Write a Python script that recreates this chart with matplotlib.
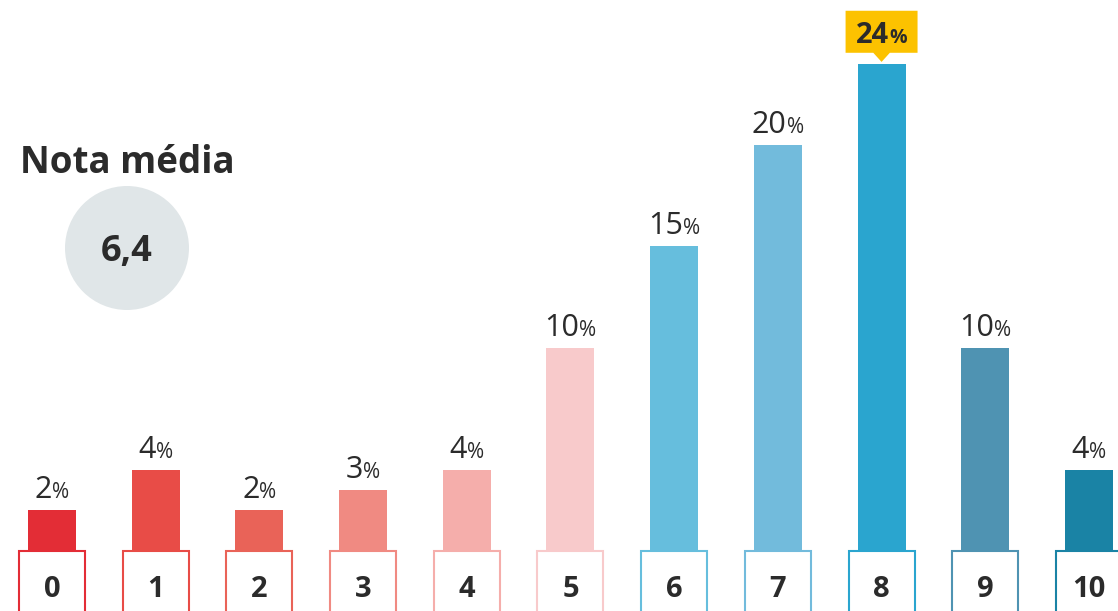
import matplotlib
matplotlib.use("Agg")
import matplotlib.pyplot as plt
from matplotlib.patches import Rectangle, Ellipse, Polygon

plt.rcParams['font.family'] = ['Open Sans', 'DejaVu Sans']

notas = [0, 1, 2, 3, 4, 5, 6, 7, 8, 9, 10]
pct = [2, 4, 2, 3, 4, 10, 15, 20, 24, 10, 4]
cores = ['#e32d36', '#e84c47', '#e96358', '#f08a82', '#f5aeab', '#f8cacb',
         '#66bedd', '#72bbdc', '#2aa5cf', '#4f93b2', '#1a83a5']
media = '6,4'
destaque = 8

W, H = 1118, 611
fig = plt.figure(figsize=(W / 100, H / 100), dpi=100)
ax = fig.add_axes([0, 0, 1, 1])
ax.set_xlim(-0.501, 10.28)
ax.set_ylim(-2.956, 27.14)
ax.axis('off')

txt = '#2b2b2b'
ax.bar(notas, pct, width=0.463, color=cores, zorder=2)

# caixinhas com a nota embaixo de cada barra
for n, c in zip(notas, cores):
    ax.add_patch(Rectangle((n - 0.318, -4), 0.636, 4, facecolor='white',
                           edgecolor=c, linewidth=1.5, zorder=3))
    ax.text(n, -2.27, str(n), ha='center', va='baseline', fontsize=21,
            fontweight='bold', color=txt, zorder=4)

renderer = fig.canvas.get_renderer()
inv = ax.transData.inverted()


def rotulo(x, y, num, big, small, weight):
    a = ax.text(x, y, num, ha='left', va='baseline', fontsize=big,
                fontweight=weight, color=txt, zorder=5)
    b = ax.text(x, y, '%', ha='left', va='baseline', fontsize=small,
                fontweight=weight, color=txt, zorder=5)
    wa = a.get_window_extent(renderer).width
    wb = b.get_window_extent(renderer).width
    px, py = ax.transData.transform((x, y))
    a.set_x(inv.transform((px - (wa + wb) / 2, py))[0])
    b.set_x(inv.transform((px - (wa + wb) / 2 + wa, py))[0])


for n, v in zip(notas, pct):
    if n == destaque:
        # balão amarelo com ponteiro
        y0 = v + 0.54
        ax.add_patch(Polygon([(n - 0.347, y0), (n - 0.08, y0), (n, y0 - 0.45),
                              (n + 0.08, y0), (n + 0.347, y0),
                              (n + 0.347, y0 + 2.07), (n - 0.347, y0 + 2.07)],
                             closed=True, facecolor='#fcc200', edgecolor='none',
                             zorder=4))
        rotulo(n, y0 + 0.5, str(v), 21, 14, 'bold')
    else:
        rotulo(n, v + 0.6, str(v), 22, 15, 'normal')

fig.text(20 / W, 1 - 173 / H, 'Nota média', ha='left', va='baseline',
         fontsize=26.5, fontweight='bold', color=txt)
fig.add_artist(Ellipse((127 / W, 1 - 248 / H), 124 / W, 124 / H,
                       transform=fig.transFigure, facecolor='#e0e6e8',
                       edgecolor='none'))
fig.text(127 / W, 1 - 248 / H, media, ha='center', va='center_baseline',
         fontsize=26, fontweight='bold', color=txt)

fig.savefig('out.png', dpi=100)
